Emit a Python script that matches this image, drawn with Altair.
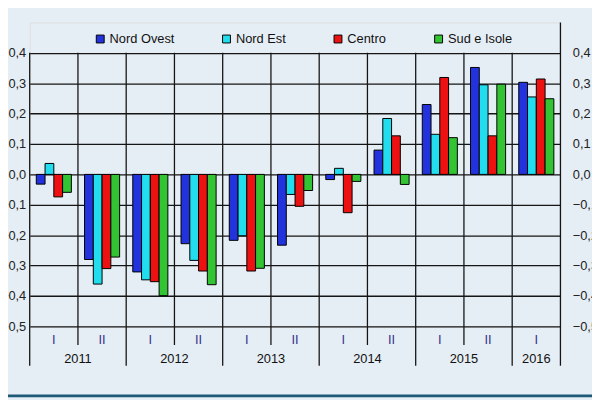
import altair as alt
import pandas as pd

periods = ["2011-I", "2011-II", "2012-I", "2012-II", "2013-I", "2013-II",
           "2014-I", "2014-II", "2015-I", "2015-II", "2016-I"]
semester_labels = ["I", "II", "I", "II", "I", "II", "I", "II", "I", "II", "I"]
regions = ["Nord Ovest", "Nord Est", "Centro", "Sud e Isole"]
nord_ovest = [-0.032, -0.280, -0.321, -0.228, -0.217, -0.233, -0.017, 0.080, 0.230, 0.352, 0.303]
nord_est = [0.036, -0.361, -0.347, -0.283, -0.202, -0.066, 0.020, 0.184, 0.132, 0.295, 0.255]
centro = [-0.074, -0.310, -0.353, -0.318, -0.318, -0.105, -0.126, 0.127, 0.319, 0.127, 0.314]
sud_isole = [-0.059, -0.272, -0.399, -0.363, -0.309, -0.053, -0.023, -0.033, 0.121, 0.297, 0.249]
colors = ["#2233dd", "#22ddee", "#ee1111", "#33c433"]
y_ticks = [-0.5, -0.4, -0.3, -0.2, -0.1, 0.0, 0.1, 0.2, 0.3, 0.4]
year_starts = ["2011-I", "2012-I", "2013-I", "2014-I", "2015-I", "2016-I"]
semester_starts = ["2011-II", "2012-II", "2013-II", "2014-II", "2015-II"]
years_two = ["2011", "2012", "2013", "2014", "2015"]
years_one = ["2016"]

rows = []
for i, p in enumerate(periods):
    for r, vals in zip(regions, [nord_ovest, nord_est, centro, sud_isole]):
        rows.append({"period": p, "region": r, "value": vals[i]})
df = pd.DataFrame(rows)

xscale = alt.Scale(domain=periods, paddingInner=0, paddingOuter=0)
yscale = alt.Scale(domain=[-0.5, 0.5], nice=False, zero=False)
label_expr = "replace(format(datum.value, '.1f'), '.', ',')"
LINE = "#151515"
LW = 1.3

bars = alt.Chart(df).mark_bar(stroke="black", strokeWidth=1).encode(
    x=alt.X("period:N", scale=xscale, sort=periods, axis=None),
    xOffset=alt.XOffset("region:N", sort=regions,
                        scale=alt.Scale(domain=regions, paddingInner=0, paddingOuter=0.75)),
    y=alt.Y("value:Q", scale=yscale, stack=None,
            axis=alt.Axis(title=None, values=y_ticks, labelExpr=label_expr, orient="left",
                          grid=True, gridColor=LINE, gridWidth=LW, gridOpacity=1, ticks=False,
                          domain=False, labelPadding=4, labelFontSize=13, labelColor="#222222")),
    color=alt.Color("region:N", sort=regions, scale=alt.Scale(domain=regions, range=colors),
                    legend=alt.Legend(title=None, orient="none", legendX=65, legendY=10,
                                      direction="horizontal", columnPadding=46,
                                      symbolType="square", symbolSize=64,
                                      symbolStrokeColor="black", symbolStrokeWidth=1,
                                      symbolOpacity=1, labelFontSize=13, labelOffset=3,
                                      labelColor="#111111", padding=0)),
)

right_axis = alt.Chart(pd.DataFrame({"v": y_ticks})).mark_rule(opacity=0).encode(
    y=alt.Y("v:Q", scale=yscale,
            axis=alt.Axis(title=None, values=y_ticks, labelExpr=label_expr, orient="right",
                          grid=False, ticks=False, domain=False, labelPadding=12,
                          labelFontSize=13, labelColor="#222222", labelAlign="left")),
)

long_rules = alt.Chart(pd.DataFrame({"period": year_starts})).mark_rule(
    color=LINE, strokeWidth=LW).encode(
    x=alt.X("period:N", scale=xscale, bandPosition=0, axis=None),
    y=alt.Y(datum=0.4, scale=yscale, axis=None),
    y2=alt.value(348),
)
right_edge = alt.Chart(pd.DataFrame({"period": [periods[-1]]})).mark_rule(
    color=LINE, strokeWidth=LW).encode(
    x=alt.X("period:N", scale=xscale, bandPosition=1, axis=None),
    y=alt.Y(datum=0.5, scale=yscale, axis=None),
    y2=alt.value(348),
)
short_rules = alt.Chart(pd.DataFrame({"period": semester_starts})).mark_rule(
    color=LINE, strokeWidth=LW).encode(
    x=alt.X("period:N", scale=xscale, bandPosition=0, axis=None),
    y=alt.Y(datum=0.4, scale=yscale, axis=None),
    y2=alt.value(327),
)

semesters = alt.Chart(pd.DataFrame({"period": periods, "sem": semester_labels})).mark_text(
    fontSize=13, color="#333388", baseline="middle").encode(
    x=alt.X("period:N", scale=xscale, axis=None),
    y=alt.value(322),
    text="sem:N",
)
year_two = alt.Chart(pd.DataFrame({"period": [y + "-II" for y in years_two], "year": years_two})).mark_text(
    fontSize=13, color="#111111", baseline="middle").encode(
    x=alt.X("period:N", scale=xscale, bandPosition=0, axis=None),
    y=alt.value(341),
    text="year:N",
)
year_one = alt.Chart(pd.DataFrame({"period": [y + "-I" for y in years_one], "year": years_one})).mark_text(
    fontSize=13, color="#111111", baseline="middle").encode(
    x=alt.X("period:N", scale=xscale, bandPosition=0.5, axis=None),
    y=alt.value(341),
    text="year:N",
)

bottom_border = alt.Chart(pd.DataFrame({"a": [0]})).mark_rule(
    color="#1e5a78", strokeWidth=3).encode(
    x=alt.value(-22), x2=alt.value(570), y=alt.value(378.5),
)

chart = alt.layer(
    bars, long_rules, right_edge, short_rules, semesters, year_two, year_one,
    right_axis, bottom_border
).resolve_axis(y="independent").properties(
    width=538, height=308,
    autosize=alt.AutoSizeParams(type="none"),
    padding={"left": 22, "top": 12, "right": 32, "bottom": 72},
    background="#e6eef5",
).configure_view(
    fill="white", stroke=LINE, strokeWidth=LW,
).configure(
    font="Liberation Sans",
)

chart.save("out.html", embed_options={"renderer": "svg", "actions": False})
